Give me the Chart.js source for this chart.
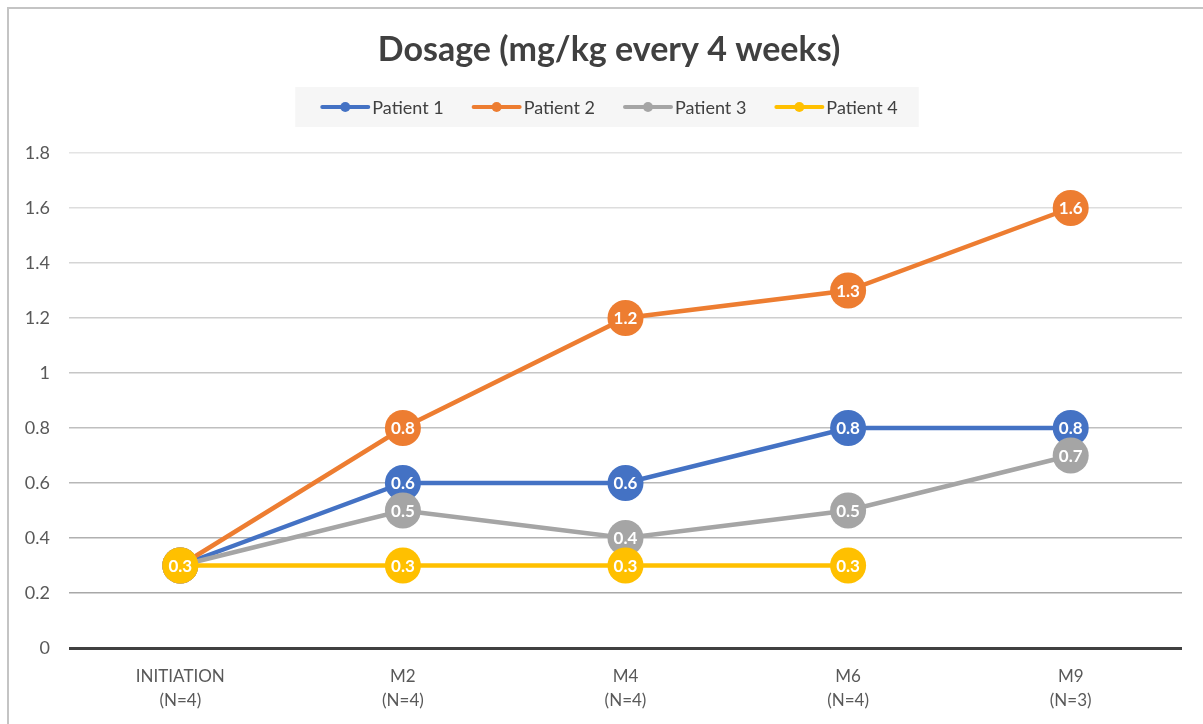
<!DOCTYPE html>
<html>
<head>
<meta charset="utf-8">
<script src="https://cdn.jsdelivr.net/npm/chart.js@4"></script>
<style>
  body { margin: 0; background: #fff; }
  canvas { display: block; }
</style>
</head>
<body>
<canvas id="dosagem" width="1203" height="724"></canvas>
<script>
// dados
const titulo = "Dosage (mg/kg every 4 weeks)";
const momentos = ["INITIATION", "M2", "M4", "M6", "M9"];
const nPacientes = ["(N=4)", "(N=4)", "(N=4)", "(N=4)", "(N=3)"];

const paciente1 = [0.3, 0.6, 0.6, 0.8, 0.8];
const paciente2 = [0.3, 0.8, 1.2, 1.3, 1.6];
const paciente3 = [0.3, 0.5, 0.4, 0.5, 0.7];
const paciente4 = [0.3, 0.3, 0.3, 0.3, null];

const nomes = ["Patient 1", "Patient 2", "Patient 3", "Patient 4"];
const cores = ["#4472C4", "#ED7D31", "#A5A5A5", "#FFC000"];

const FONTE = "Lato, 'Open Sans', sans-serif";

// Plugin → moldura cinza (topo e esquerda)
const moldura = {
  id: "moldura",
  beforeDraw(chart) {
    const { ctx } = chart;
    ctx.save();
    ctx.strokeStyle = "#c4c4c4";
    ctx.lineWidth = 2;
    ctx.beginPath();
    ctx.moveTo(8, chart.height + 5);
    ctx.lineTo(8, 8);
    ctx.lineTo(chart.width + 5, 8);
    ctx.stroke();
    ctx.restore();
  }
};

// Plugin → título + legenda estilo Excel (linha com bolinha, fundo cinza claro)
const cabecalho = {
  id: "cabecalho",
  afterDraw(chart) {
    const { ctx } = chart;
    const meio = 609;
    ctx.save();

    ctx.font = "bold 34px " + FONTE;
    ctx.fillStyle = "#404040";
    ctx.textAlign = "center";
    ctx.textBaseline = "middle";
    ctx.fillText(titulo, meio, 50);

    const linhaW = 50, gap = 2, entre = 28, cy = 107;
    ctx.font = "18px " + FONTE;
    const larguras = nomes.map((n) => ctx.measureText(n).width);
    const total = larguras.reduce((a, w) => a + linhaW + gap + w, 0) + entre * (nomes.length - 1);
    let x = meio - total / 2;

    ctx.fillStyle = "#f6f6f6";
    ctx.fillRect(x - 25, 87, total + 46, 40);

    nomes.forEach((nome, i) => {
      ctx.strokeStyle = cores[i];
      ctx.lineWidth = 4;
      ctx.lineCap = "round";
      ctx.beginPath();
      ctx.moveTo(x + 2, cy);
      ctx.lineTo(x + linhaW - 2, cy);
      ctx.stroke();
      ctx.fillStyle = cores[i];
      ctx.beginPath();
      ctx.arc(x + linhaW / 2, cy, 5, 0, Math.PI * 2);
      ctx.fill();

      ctx.fillStyle = "#404040";
      ctx.textAlign = "left";
      ctx.textBaseline = "middle";
      ctx.fillText(nome, x + linhaW + gap, cy + 1);
      x += linhaW + gap + larguras[i] + entre;
    });
    ctx.restore();
  }
};

// Plugin → rótulo branco dentro de cada bolinha
const rotulos = {
  id: "rotulos",
  afterDatasetDraw(chart, args) {
    const { ctx } = chart;
    const meta = args.meta;
    const dados = chart.data.datasets[meta.index].data;
    ctx.save();
    ctx.font = "bold 17px " + FONTE;
    ctx.fillStyle = "#ffffff";
    ctx.textAlign = "center";
    ctx.textBaseline = "middle";
    meta.data.forEach((pt, i) => {
      if (dados[i] === null || pt.skip) return;
      ctx.fillText(dados[i].toFixed(1), pt.x, pt.y + 1);
    });
    ctx.restore();
  }
};

const series = [paciente1, paciente2, paciente3, paciente4];

new Chart(document.getElementById("dosagem"), {
  type: "line",
  plugins: [moldura, cabecalho, rotulos],
  data: {
    labels: momentos.map((m, i) => [m, nPacientes[i]]),
    datasets: series.map((dados, i) => ({
      label: nomes[i],
      data: dados,
      borderColor: cores[i],
      backgroundColor: cores[i],
      borderWidth: 4.5,
      pointRadius: 18,
      pointHoverRadius: 18,
      pointBorderWidth: 0,
      pointBackgroundColor: cores[i],
      tension: 0,
      spanGaps: false,
      order: series.length - i, // paciente 4 fica por cima
    })),
  },
  options: {
    responsive: false,
    animation: false,
    layout: { padding: { top: 153, left: 8, right: 21, bottom: 12 } },
    plugins: {
      legend: { display: false },
      tooltip: { enabled: false },
      title: { display: false },
    },
    scales: {
      x: {
        offset: true,
        afterFit: (scale) => { scale.height = 64; },
        grid: { display: false, drawTicks: false },
        border: { display: false },
        ticks: {
          color: "#595959",
          padding: 16,
          maxRotation: 0,
          font: { family: FONTE, size: 17, lineHeight: 1.45 },
        },
      },
      y: {
        min: 0,
        max: 1.8,
        afterFit: (scale) => { scale.width = 61; },
        border: { display: false },
        grid: {
          drawTicks: false,
          color: (ctx) => {
            const v = ctx.tick.value;
            if (v === 0) return "#404040";
            const g = Math.round(0xa8 + (v - 0.2) / 1.6 * (0xe4 - 0xa8));
            return `rgb(${g},${g},${g})`;
          },
          lineWidth: (ctx) => (ctx.tick.value === 0 ? 3 : 1.5),
        },
        ticks: {
          stepSize: 0.2,
          padding: 19,
          color: "#595959",
          font: { family: FONTE, size: 18 },
          callback: (v) => String(+v.toFixed(1)),
        },
      },
    },
  },
});
</script>
</body>
</html>
